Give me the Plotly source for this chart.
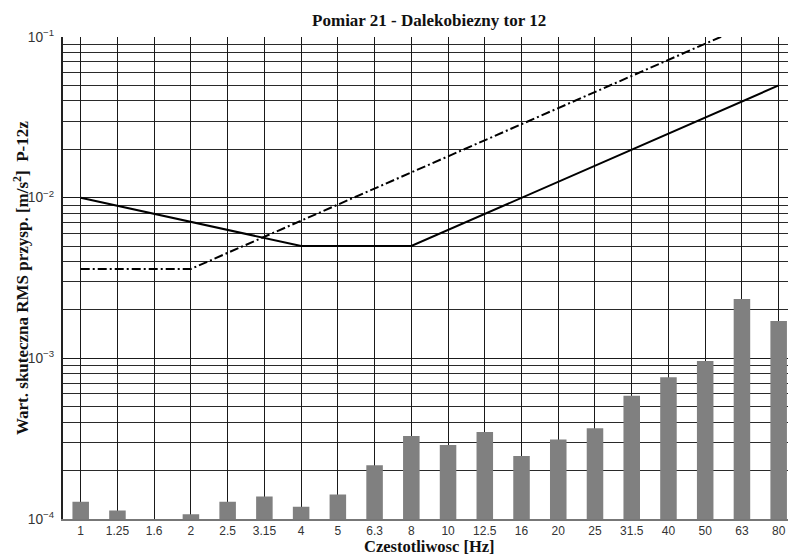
import plotly.graph_objects as go

# Data
freq_labels = ["1", "1.25", "1.6", "2", "2.5", "3.15", "4", "5", "6.3", "8",
               "10", "12.5", "16", "20", "25", "31.5", "40", "50", "63", "80"]
rms_values = [1.28e-4, 1.13e-4, 0.98e-4, 1.07e-4, 1.28e-4, 1.38e-4, 1.19e-4, 1.42e-4,
              2.16e-4, 3.28e-4, 2.89e-4, 3.48e-4, 2.47e-4, 3.13e-4, 3.67e-4, 5.85e-4,
              7.62e-4, 9.62e-4, 2.34e-3, 1.71e-3]

# Threshold curves (vertices)
solid_x = ["1", "4", "8", "80"]
solid_y = [1.0e-2, 5.0e-3, 5.0e-3, 5.0e-2]
dashdot_x = ["1", "2", "80"]
dashdot_y = [3.6e-3, 3.6e-3, 1.44e-1]

title_text = "<b>Pomiar 21 - Dalekobiezny tor 12</b>"
x_title = "<b>Czestotliwosc [Hz]</b>"
y_title = "<b>Wart. skuteczna RMS przysp. [m/s<sup>2</sup>]  P-12z</b>"

serif = "Liberation Serif"
sans = "Liberation Sans"

fig = go.Figure()
fig.add_trace(go.Bar(x=freq_labels, y=rms_values, width=0.45,
                     marker=dict(color="#808080", line=dict(width=0)),
                     showlegend=False))
fig.add_trace(go.Scatter(x=solid_x, y=solid_y, mode="lines",
                         line=dict(color="black", width=2), showlegend=False))
fig.add_trace(go.Scatter(x=dashdot_x, y=dashdot_y, mode="lines",
                         line=dict(color="black", width=2, dash="9px,3px,2px,3px"),
                         showlegend=False))

fig.update_layout(
    width=788, height=557,
    margin=dict(l=63, r=0, t=37, b=38),
    paper_bgcolor="white", plot_bgcolor="white",
    title=dict(text=title_text, x=0.505, xref="paper", xanchor="center",
               y=1 - 20 / 557, yref="container", yanchor="middle",
               font=dict(family=serif, size=17, color="#111")),
    bargap=0.5,
)

fig.update_xaxes(
    type="category", categoryorder="array", categoryarray=freq_labels,
    range=[-0.482, 19.254],
    showgrid=True, gridcolor="#1a1a1a", gridwidth=1,
    showline=True, linecolor="#777", linewidth=1.5,
    ticks="", tickfont=dict(family=sans, size=12, color="#333"),
)

fig.update_yaxes(
    type="log", range=[-4, -1], dtick=1,
    exponentformat="power",
    showgrid=True, gridcolor="#1a1a1a", gridwidth=1,
    minor=dict(showgrid=True, gridcolor="#2a2a2a", gridwidth=1, dtick="D1"),
    showline=True, linecolor="#222", linewidth=1.5,
    ticks="", ticklabelstandoff=5,
    tickfont=dict(family=sans, size=11, color="#333"),
    zeroline=False,
)

fig.add_annotation(text=y_title, textangle=-90, xref="paper", yref="paper",
                   x=(21 - 63) / 725, y=0.5, xanchor="center", yanchor="middle",
                   showarrow=False, font=dict(family=serif, size=17, color="#111"))
fig.add_annotation(text=x_title, xref="paper", yref="paper",
                   x=(429 - 63) / 725, y=(519 - 546) / 482, xanchor="center", yanchor="middle",
                   showarrow=False, font=dict(family=serif, size=16.5, color="#111"))

fig.write_html("out.html")
